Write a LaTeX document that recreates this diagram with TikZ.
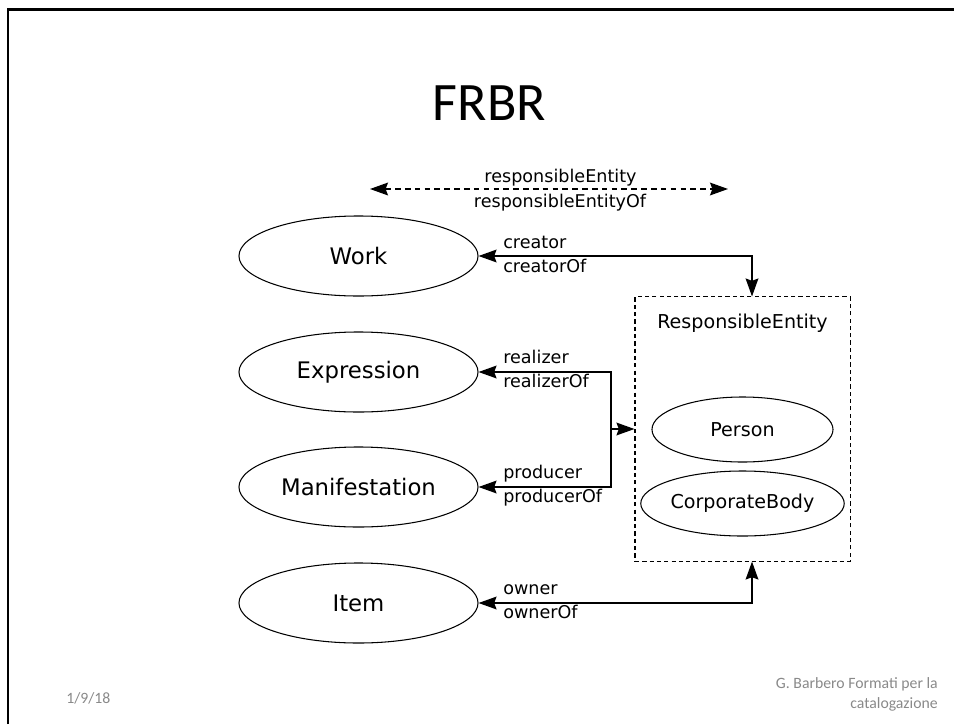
\documentclass[tikz,border=0pt]{standalone}
\usepackage{fontspec}
\usetikzlibrary{arrows.meta,shapes.geometric}
\newfontfamily\diafont{DejaVu Sans}
\newfontfamily\slidefont{Carlito}
\definecolor{footgray}{RGB}{137,137,137}

\begin{document}
\begin{tikzpicture}[x=0.025cm,y=-0.025cm,
	>={Stealth[length=4.5mm,width=3.2mm,inset=0.6mm]},
	entity/.style={draw,ellipse,line width=0.75pt,minimum width=5.975cm,minimum height=2cm,inner sep=0pt,font=\diafont\fontsize{16.2}{19}\selectfont},
	agent/.style={draw,ellipse,line width=0.75pt,minimum width=4.525cm,minimum height=1.625cm,inner sep=0pt,font=\diafont\fontsize{13.6}{16}\selectfont},
	tag/.style={anchor=base west,inner sep=0pt,font=\diafont\fontsize{12.5}{15}\selectfont},
	link/.style={line width=0.9pt},
	foot/.style={text=footgray,inner sep=0pt,font=\slidefont\fontsize{11.2}{14.2}\selectfont}]
	\useasboundingbox (0,0) rectangle (954,724);

	\draw[line width=1.6pt] (8,724) -- (8,9.5) -- (954,9.5);

	\node[anchor=base,inner sep=0pt,font=\slidefont\fontsize{38.5}{46}\selectfont] (title) at (489.5,120) {FRBR};

	\node[entity] (work) at (358.5,256) {Work};
	\node[entity] (expr) at (358.5,372) {Expression};
	\node[entity] (manif) at (358.5,487) {Manifestation};
	\node[entity] (item) at (358.5,603) {Item};

	\node[draw,line width=0.75pt,dash pattern=on 3pt off 2.2pt,minimum width=5.375cm,minimum height=6.6cm,inner sep=0pt] (resp) at (742.5,429) {};
	\node[inner sep=0pt,font=\diafont\fontsize{13.6}{16}\selectfont] (resptitle) at (742.5,323) {ResponsibleEntity};
	\node[agent] (person) at (742.5,429.5) {Person};
	\node[agent] (corp) at (742.5,503.5) {CorporateBody};

	\coordinate (respleft) at (370,189);
	\coordinate (respright) at (728,189);
	\draw[link,<->,dash pattern=on 4pt off 3pt] (respleft) -- (respright);
	\node[tag,anchor=base] (respent) at (560.5,182) {responsibleEntity};
	\node[tag,anchor=base] (respentof) at (560,207) {responsibleEntityOf};

	\draw[link,<->] (work.east) -| ([xshift=0.2375cm]resp.north);
	\node[tag] (creator) at (503,248) {creator};
	\node[tag] (creatorof) at (503,272) {creatorOf};

	\coordinate (fork) at (611,429);
	\draw[link,<->] (expr.east) -| (fork) |- (manif.east);
	\draw[link,->] (fork) -- (resp.west);
	\node[tag] (realizer) at (503,363) {realizer};
	\node[tag] (realizerof) at (503,387) {realizerOf};
	\node[tag] (producer) at (503,478) {producer};
	\node[tag] (producerof) at (503,502) {producerOf};

	\draw[link,<->] (item.east) -| ([xshift=0.2375cm]resp.south);
	\node[tag] (owner) at (503,594) {owner};
	\node[tag] (ownerof) at (503,618) {ownerOf};

	\node[foot,anchor=base west] (date) at (66,703) {1/9/18};
	\node[foot,anchor=east,align=right] (credit) at (938,694) {G. Barbero Formati per la\\catalogazione};
\end{tikzpicture}
\end{document}
